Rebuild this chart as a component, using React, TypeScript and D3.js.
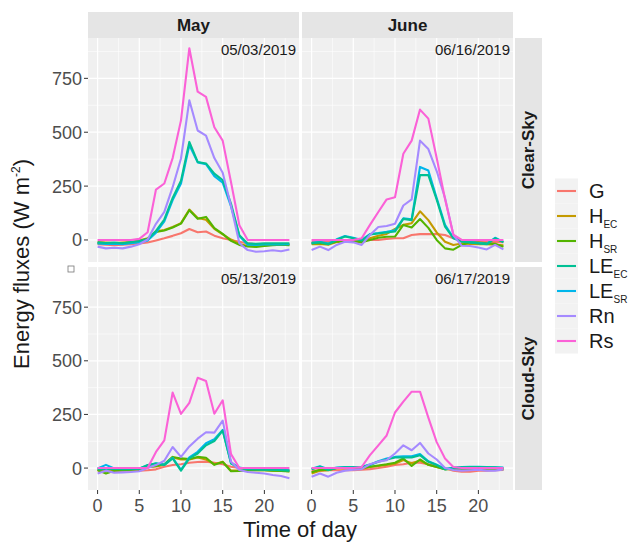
import React from "react";
import * as d3 from "d3";

const WIDTH = 629;
const HEIGHT = 547;
const FONT = "'Liberation Sans', Arial, Helvetica, sans-serif";

const hours = [0, 1, 2, 3, 4, 5, 6, 7, 8, 9, 10, 11, 12, 13, 14, 15, 16, 17, 18, 19, 20, 21, 22, 23];
const seriesNames = ["G", "H_EC", "H_SR", "LE_EC", "LE_SR", "Rn", "Rs"];
const seriesColors = ["#F8766D", "#C49A00", "#53B400", "#00C094", "#00B6EB", "#A58AFF", "#FB61D7"];
const legendMain = ["G", "H", "H", "LE", "LE", "Rn", "Rs"];
const legendSub = ["", "EC", "SR", "EC", "SR", "", ""];
const xBreaks = [0, 5, 10, 15, 20];
const xMinor = [2.5, 7.5, 12.5, 17.5, 22.5];
const yBreaks = [0, 250, 500, 750];
const yMinor = [-125, 125, 375, 625, 875];
const months = ["May", "June"];
const skies = ["Clear-Sky", "Cloud-Sky"];

// 05/03/2019 - May, clear sky
const may03G = [-20, -22, -24, -22, -20, -16, -12, -2, 8, 19, 31, 51, 36, 39, 20, 8, 0, -8, -16, -20, -20, -20, -20, -20];
const may03HEC = [-10, -12, -14, -12, -10, -3, 8, 40, 46, 60, 78, 141, 102, 94, 52, 26, 2, -20, -27, -27, -25, -22, -22, -22];
const may03HSR = [-15, -15, -18, -16, -12, -5, 5, 37, 44, 58, 76, 138, 98, 107, 55, 28, -4, -23, -30, -32, -28, -24, -22, -24];
const may03LEEC = [-11, -14, -12, -15, -10, -5, 3, 42, 95, 195, 275, 455, 362, 355, 308, 278, 168, 22, -16, -18, -16, -15, -16, -15];
const may03LESR = [-16, -19, -17, -20, -15, -10, -3, 34, 86, 185, 262, 440, 360, 352, 296, 266, 156, 18, -22, -23, -21, -20, -21, -20];
const may03Rn = [-31, -39, -36, -39, -31, -20, 2, 75, 130, 245, 378, 648, 508, 484, 380, 312, 158, -15, -47, -55, -52, -48, -52, -44];
const may03Rs = [0, 0, 0, 0, 0, 5, 36, 234, 262, 380, 555, 890, 688, 664, 523, 461, 268, 68, 0, 0, 0, 0, 0, 0];

// 06/16/2019 - June, clear sky
const jun16G = [-8, -8, -8, -6, -5, -5, -3, 0, 0, 5, 8, 8, 23, 27, 27, 27, 23, 8, 0, -5, -8, -10, -10, -10];
const jun16HEC = [-20, -18, -22, -10, -5, -8, -12, 8, 20, 28, 51, 70, 78, 133, 92, 35, -8, -23, -16, -18, -20, -20, -22, -25];
const jun16HSR = [-15, -15, -18, -8, -3, -5, -10, 0, 10, 15, 16, 70, 58, 97, 56, 0, -39, -45, -23, -11, -12, -16, -18, -31];
const jun16LEEC = [-16, -11, -20, 0, 16, 8, -3, 25, 30, 35, 39, 98, 92, 301, 301, 187, 62, 8, -8, -11, -16, -20, 8, -11];
const jun16LESR = [-13, -8, -17, 3, 18, 10, 0, 27, 32, 38, 45, 100, 96, 339, 322, 195, 70, 10, -6, -10, -14, -18, 10, -9];
const jun16Rn = [-47, -31, -47, -23, -8, -11, -23, 23, 60, 65, 75, 160, 188, 461, 422, 320, 195, 23, -27, -28, -35, -44, -23, -44];
const jun16Rs = [0, 0, 0, 0, 0, 0, 8, 70, 130, 188, 198, 400, 461, 605, 563, 380, 190, 25, 0, 0, 0, 0, 0, 0];

// 05/13/2019 - May, cloudy sky
const may13G = [-12, -12, -12, -12, -12, -12, -10, -6, 6, 14, 18, 25, 28, 30, 25, 18, 6, 0, -6, -8, -8, -10, -10, -10];
const may13HEC = [-9, -15, -10, -10, -8, -6, 6, 8, 16, 49, 40, 40, 49, 40, 18, 30, -12, -12, -10, -10, -10, -12, -12, -15];
const may13HSR = [-9, -25, -12, -10, -8, -6, 4, 10, 18, 52, 45, 42, 52, 48, 15, 28, -15, -14, -10, -10, -10, -12, -14, -16];
const may13LEEC = [-5, -5, -3, -5, -5, -3, 14, 21, 14, 45, -12, 45, 68, 106, 126, 175, 21, 0, -5, -5, -6, -8, -10, -12];
const may13LESR = [-2, 15, -2, -4, -4, -2, 12, 22, 16, 48, -8, 50, 76, 116, 134, 178, 25, 2, -4, -5, -6, -7, -8, -10];
const may13Rn = [-25, -12, -22, -20, -18, -15, 0, 14, 34, 98, 52, 101, 137, 167, 165, 221, 29, -9, -18, -22, -25, -32, -37, -48];
const may13Rs = [0, 0, 0, 0, 0, 0, 0, 75, 129, 352, 253, 304, 421, 406, 253, 316, 65, 0, 0, 0, 0, 0, 0, 0];

// 06/17/2019 - June, cloudy sky
const jun17G = [-12, -12, -10, -10, -10, -10, -8, -5, 0, 6, 14, 18, 25, 25, 18, 9, 0, -12, -17, -17, -12, -12, -10, -9];
const jun17HEC = [-25, -12, -9, 0, -2, -2, -3, 5, 10, 15, 20, 37, 22, 35, 15, 5, -5, -5, -5, -5, -6, -6, -5, -5];
const jun17HSR = [-20, -8, -10, 0, 0, 0, 0, 6, 12, 18, 25, 45, 10, 40, 15, 5, -5, -3, -5, -3, -3, -3, -3, -5];
const jun17LEEC = [-6, 6, -9, 0, 3, 3, 5, 14, 29, 40, 49, 49, 49, 60, 29, 14, -6, 0, 3, 5, 5, 3, 3, 0];
const jun17LESR = [-3, 8, -6, 2, 5, 5, 6, 16, 32, 44, 52, 55, 55, 65, 32, 16, -4, 2, 5, 6, 6, 5, 4, 2];
const jun17Rn = [-40, -25, -40, -22, -12, -8, -5, 18, 30, 37, 68, 106, 83, 117, 68, 40, 0, -9, -12, -10, -8, -12, -12, -6];
const jun17Rs = [0, 0, 0, 0, 0, 0, 5, 60, 106, 152, 259, 310, 356, 356, 235, 121, 45, 5, 0, 0, 0, 0, 0, 0];

const panels = [
  { row: 0, col: 0, date: "05/03/2019", series: [may03G, may03HEC, may03HSR, may03LEEC, may03LESR, may03Rn, may03Rs] },
  { row: 0, col: 1, date: "06/16/2019", series: [jun16G, jun16HEC, jun16HSR, jun16LEEC, jun16LESR, jun16Rn, jun16Rs] },
  { row: 1, col: 0, date: "05/13/2019", series: [may13G, may13HEC, may13HSR, may13LEEC, may13LESR, may13Rn, may13Rs] },
  { row: 1, col: 1, date: "06/17/2019", series: [jun17G, jun17HEC, jun17HSR, jun17LEEC, jun17LESR, jun17Rn, jun17Rs] },
];

// LE_SR is drawn under LE_EC, which mostly hides it as in the original
const drawOrder = [0, 1, 2, 4, 3, 5, 6];

const colX = [[88, 299], [302, 513]];
const rowY = [[38, 262], [267, 490]];

export default function App() {
  const allVals = panels.flatMap(p => p.series.flat());
  const [yMin, yMax] = d3.extent(allVals) as [number, number];
  const yPad = (yMax - yMin) * 0.05;
  const xPad = (d3.max(hours)! - d3.min(hours)!) * 0.05;
  const xDomain = [d3.min(hours)! - xPad, d3.max(hours)! + xPad];

  const xScales = colX.map(r => d3.scaleLinear().domain(xDomain).range(r));
  const yScales = rowY.map(r => d3.scaleLinear().domain([yMin - yPad, yMax + yPad]).range([r[1], r[0]]));

  return (
    <svg width={WIDTH} height={HEIGHT} style={{ position: "absolute", left: 0, top: 0, background: "#fff" }} fontFamily={FONT}>
      {/* column strips */}
      {months.map((m, i) => (
        <g key={m}>
          <rect x={colX[i][0]} y={12} width={colX[i][1] - colX[i][0]} height={26} fill="#E5E5E5" />
          <text x={(colX[i][0] + colX[i][1]) / 2} y={31} textAnchor="middle" fontSize={17} fontWeight="bold" fill="#1A1A1A">{m}</text>
        </g>
      ))}
      {/* row strips */}
      {skies.map((s, i) => (
        <g key={s}>
          <rect x={515} y={rowY[i][0]} width={27} height={rowY[i][1] - rowY[i][0]} fill="#E5E5E5" />
          <text transform={`translate(534,${(rowY[i][0] + rowY[i][1]) / 2}) rotate(-90)`} textAnchor="middle" fontSize={17} fontWeight="bold" fill="#1A1A1A">{s}</text>
        </g>
      ))}

      {panels.map(p => {
        const x = xScales[p.col];
        const y = yScales[p.row];
        const [x0, x1] = colX[p.col];
        const [y0, y1] = rowY[p.row];
        const line = d3.line<number>().x((_, i) => x(hours[i])).y(d => y(d));
        return (
          <g key={p.date}>
            <rect x={x0} y={y0} width={x1 - x0} height={y1 - y0} fill="#F0F0F0" />
            {xMinor.map(v => <line key={"xm" + v} x1={x(v)} x2={x(v)} y1={y0} y2={y1} stroke="#fff" strokeWidth={0.6} />)}
            {yMinor.filter(v => y(v) > y0 && y(v) < y1).map(v => <line key={"ym" + v} x1={x0} x2={x1} y1={y(v)} y2={y(v)} stroke="#fff" strokeWidth={0.6} />)}
            {xBreaks.map(v => <line key={"xb" + v} x1={x(v)} x2={x(v)} y1={y0} y2={y1} stroke="#fff" strokeWidth={1.2} />)}
            {yBreaks.map(v => <line key={"yb" + v} x1={x0} x2={x1} y1={y(v)} y2={y(v)} stroke="#fff" strokeWidth={1.2} />)}
            {drawOrder.map(i => (
              <path key={seriesNames[i]} d={line(p.series[i]) || ""} fill="none" stroke={seriesColors[i]} strokeWidth={2.1} strokeLinejoin="round" />
            ))}
            <text x={x1 - 3} y={p.row === 0 ? 55 : 284} textAnchor="end" fontSize={15} fill="#1A1A1A">{p.date}</text>
            {p.col === 0 && yBreaks.map(v => (
              <g key={"yt" + v}>
                <line x1={x0 - 4} x2={x0} y1={y(v)} y2={y(v)} stroke="#333" strokeWidth={1} />
                <text x={x0 - 6} y={y(v) + 6.5} textAnchor="end" fontSize={18} fill="#4D4D4D">{v}</text>
              </g>
            ))}
            {p.row === 1 && xBreaks.map(v => (
              <g key={"xt" + v}>
                <line x1={x(v)} x2={x(v)} y1={y1} y2={y1 + 4} stroke="#333" strokeWidth={1} />
                <text x={x(v)} y={y1 + 22} textAnchor="middle" fontSize={18} fill="#4D4D4D">{v}</text>
              </g>
            ))}
          </g>
        );
      })}

      {/* stray glyph box */}
      <rect x={68} y={266} width={6} height={6} fill="none" stroke="#777" strokeWidth={0.8} />

      {/* axis titles */}
      <text transform="translate(29,264) rotate(-90)" textAnchor="middle" fontSize={22} fill="#1A1A1A">
        Energy fluxes (W m<tspan dy={-9} fontSize={12}>-2</tspan><tspan dy={9}>)</tspan>
      </text>
      <text x={300} y={537} textAnchor="middle" fontSize={22} fill="#1A1A1A">Time of day</text>

      {/* legend */}
      {seriesNames.map((n, i) => {
        const cy = 191 + i * 25;
        return (
          <g key={"lg" + n}>
            <rect x={555} y={cy - 12.5} width={23} height={25} fill="#F2F2F2" />
            <line x1={557} x2={576} y1={cy} y2={cy} stroke={seriesColors[i]} strokeWidth={2.1} />
            <text x={589} y={cy + 7} fontSize={20} fill="#1A1A1A">
              {legendMain[i]}
              {legendSub[i] && <tspan dy={5} fontSize={10}>{legendSub[i]}</tspan>}
            </text>
          </g>
        );
      })}
    </svg>
  );
}
